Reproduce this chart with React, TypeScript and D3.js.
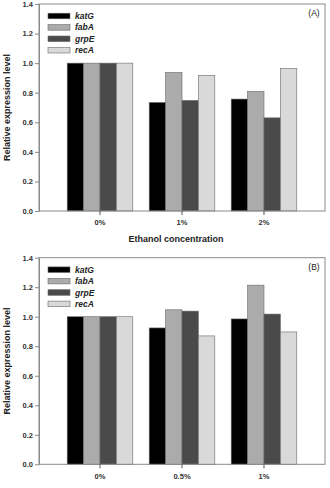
import React, { useRef, useEffect } from "react";
import * as d3 from "d3";

const series = ["katG", "fabA", "grpE", "recA"];
const seriesColors = ["#000000", "#ababab", "#4a4a4a", "#d9d9d9"];
const yTicks = [0, 0.2, 0.4, 0.6, 0.8, 1.0, 1.2, 1.4];

// panel A: ethanol
const categoriesA = ["0%", "1%", "2%"];
const katGA = [1.0, 0.734, 0.757];
const fabAA = [1.0, 0.937, 0.809];
const grpEA = [1.0, 0.748, 0.63];
const recAA = [1.0, 0.917, 0.964];

// panel B
const categoriesB = ["0%", "0.5%", "1%"];
const katGB = [1.0, 0.924, 0.985];
const fabAB = [1.0, 1.047, 1.214];
const grpEB = [1.0, 1.038, 1.018];
const recAB = [1.0, 0.87, 0.897];

const W = 330;
const H = 488;
const FONT = "'Liberation Sans', Arial, sans-serif";

type Panel = {
  tag: string;
  categories: string[];
  values: number[][];
  top: number;
  bottom: number;
  xTitle?: string;
};

const panels: Panel[] = [
  { tag: "(A)", categories: categoriesA, values: [katGA, fabAA, grpEA, recAA], top: 4, bottom: 211, xTitle: "Ethanol concentration" },
  { tag: "(B)", categories: categoriesB, values: [katGB, fabAB, grpEB, recAB], top: 257.7, bottom: 464.3 },
];

export default function App() {
  const svgRef = useRef<SVGSVGElement>(null);

  useEffect(() => {
    const svg = d3.select(svgRef.current);
    svg.selectAll("*").remove();

    const left = 39;
    const right = 325;

    panels.forEach((p) => {
      const g = svg.append("g");

      const x = d3
        .scaleBand()
        .domain(p.categories)
        .range([left, right])
        .paddingInner(0.2)
        .paddingOuter(0.344);

      const xs = d3.scaleBand().domain(series).range([0, x.bandwidth()]);

      const y = d3.scaleLinear().domain([0, 1.4]).range([p.bottom, p.top]);

      // bars
      const rows = p.categories.flatMap((c, i) =>
        series.map((s, j) => ({ c, s, j, v: p.values[j][i] }))
      );
      g.selectAll("rect.bar")
        .data(rows)
        .join("rect")
        .attr("class", "bar")
        .attr("x", (d) => (x(d.c) || 0) + (xs(d.s) || 0))
        .attr("y", (d) => y(d.v))
        .attr("width", xs.bandwidth())
        .attr("height", (d) => y(0) - y(d.v))
        .attr("fill", (d) => seriesColors[d.j])
        .attr("stroke", "#6a6a6a")
        .attr("stroke-width", 0.6);

      // frame
      g.append("rect")
        .attr("x", left)
        .attr("y", p.top)
        .attr("width", right - left)
        .attr("height", p.bottom - p.top)
        .attr("fill", "none")
        .attr("stroke", "#8a8a8a")
        .attr("stroke-width", 1);

      // axes
      const ya = g
        .append("g")
        .attr("transform", `translate(${left},0)`)
        .call(d3.axisLeft(y).tickValues(yTicks).tickFormat(d3.format(".1f")).tickSize(4).tickSizeOuter(0).tickPadding(2));
      ya.select(".domain").attr("stroke", "#8a8a8a");
      ya.selectAll("line").attr("stroke", "#8a8a8a");
      ya.selectAll("text")
        .attr("font-family", FONT)
        .attr("font-size", 7.5)
        .attr("font-weight", "bold")
        .attr("fill", "#333");

      const xa = g
        .append("g")
        .attr("transform", `translate(0,${p.bottom})`)
        .call(d3.axisBottom(x).tickSize(4).tickSizeOuter(0).tickPadding(5));
      xa.select(".domain").remove();
      xa.selectAll("line").attr("stroke", "#555");
      xa.selectAll("text")
        .attr("font-family", FONT)
        .attr("font-size", 7.5)
        .attr("font-weight", "bold")
        .attr("fill", "#333");

      // axis titles
      g.append("text")
        .attr("transform", `translate(10,${(p.top + p.bottom) / 2}) rotate(-90)`)
        .attr("text-anchor", "middle")
        .attr("font-family", FONT)
        .attr("font-size", 9)
        .attr("font-weight", "bold")
        .attr("fill", "#222")
        .text("Relative expression level");

      if (p.xTitle) {
        g.append("text")
          .attr("x", 176)
          .attr("y", p.bottom + 31)
          .attr("text-anchor", "middle")
          .attr("font-family", FONT)
          .attr("font-size", 9)
          .attr("font-weight", "bold")
          .attr("fill", "#222")
          .text(p.xTitle);
      }

      // panel tag
      g.append("text")
        .attr("x", 314)
        .attr("y", p.top + 12)
        .attr("text-anchor", "middle")
        .attr("font-family", FONT)
        .attr("font-size", 8.5)
        .attr("fill", "#222")
        .text(p.tag);

      // legend
      const leg = g
        .append("g")
        .attr("transform", `translate(48,${p.top + 12})`);
      series.forEach((s, j) => {
        const row = leg.append("g").attr("transform", `translate(0,${j * 11.4})`);
        row.append("rect")
          .attr("x", 0)
          .attr("y", -2.8)
          .attr("width", 22)
          .attr("height", 5.6)
          .attr("fill", seriesColors[j])
          .attr("stroke", "#6a6a6a")
          .attr("stroke-width", 0.6);
        row.append("text")
          .attr("x", 27)
          .attr("y", 3)
          .attr("font-family", FONT)
          .attr("font-size", 8.5)
          .attr("font-weight", "bold")
          .attr("font-style", "italic")
          .attr("fill", "#222")
          .text(s);
      });
    });
  }, []);

  return (
    <svg
      ref={svgRef}
      width={W}
      height={H}
      style={{ position: "fixed", left: 0, top: 0, background: "#fff" }}
    />
  );
}
